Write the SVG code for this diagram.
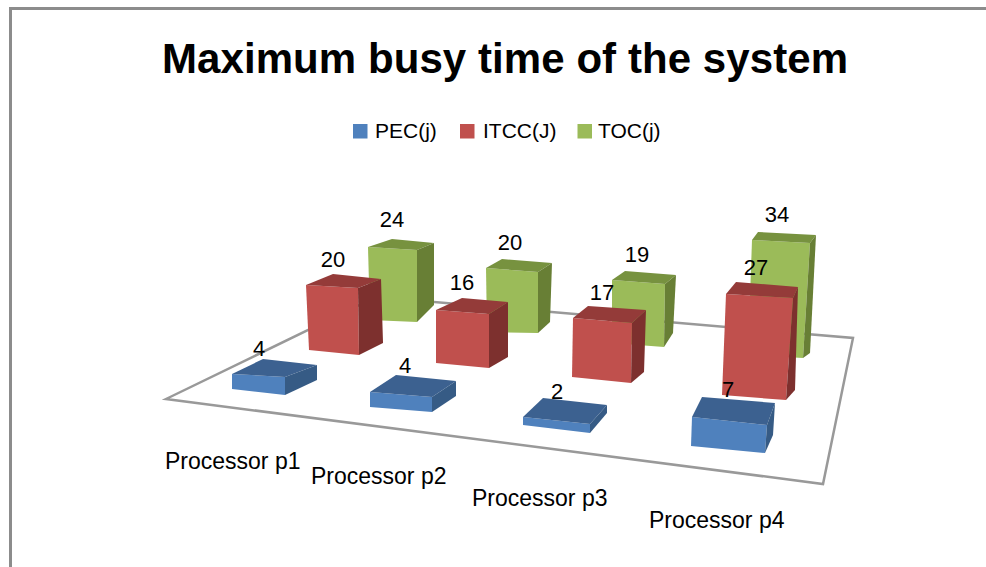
<svg xmlns="http://www.w3.org/2000/svg" width="986" height="567" viewBox="0 0 986 567">
<style>
text{font-family:"Liberation Sans",Arial,sans-serif;fill:#000}
.title{font-size:42px;font-weight:bold;text-anchor:middle}
.leg{font-size:21px}
.cat{font-size:23px}
.val{font-size:22px;text-anchor:middle}
.bf{fill:#4f81bd}.bt{fill:#3c6190}.bs{fill:#365b85}
.rf{fill:#c0504d}.rt{fill:#943b39}.rs{fill:#7d302e}
.gf{fill:#9bbb59}.gt{fill:#77923f}.gs{fill:#687f35}
.floor{fill:#fff;stroke:#999;stroke-width:2.5;stroke-linejoin:miter}
</style>
<rect x="0" y="0" width="986" height="567" fill="#fff"/>
<path d="M10.5 567 V8.5 H986" fill="none" stroke="#8c8c8c" stroke-width="3"/>
<text class="title" x="505" y="73" textLength="686">Maximum busy time of the system</text>
<g id="legend">
<rect class="bf" x="353" y="124" width="14.5" height="14.5"/>
<text class="leg" x="375" y="138">PEC(j)</text>
<rect class="rf" x="460" y="124" width="14.5" height="14.5"/>
<text class="leg" x="483" y="138">ITCC(J)</text>
<rect class="gf" x="577.5" y="124" width="14.5" height="14.5"/>
<text class="leg" x="598" y="138">TOC(j)</text>
</g>
<g id="floor">
<polygon class="floor" points="166,399 376,297 853,338 823,484"/>
</g>
<g id="toc-p1">
<polygon class="gf" points="368,247 417,250 417,322 370,320"/>
<polygon class="gt" points="368,247 392,239 434,243 417,250"/>
<polygon class="gs" points="417,250 434,243 434,305 417,322"/>
<text class="val" x="392" y="227">24</text>
</g>
<g id="toc-p2">
<polygon class="gf" points="486,268 538,272 538,333 487,332"/>
<polygon class="gt" points="486,268 502,259 552,263 538,272"/>
<polygon class="gs" points="538,272 552,263 550,322 538,333"/>
<text class="val" x="510" y="250">20</text>
</g>
<g id="toc-p3">
<polygon class="gf" points="612,280 665,284 664,347 612,343"/>
<polygon class="gt" points="612,280 625,271 676,275 665,284"/>
<polygon class="gs" points="665,284 676,275 673,333 664,347"/>
<text class="val" x="637" y="262">19</text>
</g>
<g id="toc-p4">
<polygon class="gf" points="752,240 810,243 803,358 748,355"/>
<polygon class="gt" points="752,240 758,232 816,235 810,243"/>
<polygon class="gs" points="810,243 816,235 810,353 803,358"/>
<text class="val" x="777" y="222">34</text>
</g>
<g id="itcc-p1">
<polygon class="rf" points="306,285 358,288 359,355 309,350"/>
<polygon class="rt" points="306,285 333,274 381,279 358,288"/>
<polygon class="rs" points="358,288 381,279 383,343 359,355"/>
<text class="val" x="333" y="267">20</text>
</g>
<g id="itcc-p2">
<polygon class="rf" points="436,310 489,314 489,368 436,363"/>
<polygon class="rt" points="436,310 462,298 508,302 489,314"/>
<polygon class="rs" points="489,314 508,302 508,357 489,368"/>
<text class="val" x="462" y="290">16</text>
</g>
<g id="itcc-p3">
<polygon class="rf" points="573,318 632,323 631,383 572,377"/>
<polygon class="rt" points="573,318 588,306 646,310 632,323"/>
<polygon class="rs" points="632,323 646,310 644,372 631,383"/>
<text class="val" x="602" y="300">17</text>
</g>
<g id="itcc-p4">
<polygon class="rf" points="726,294 793,298 786,400 722,395"/>
<polygon class="rt" points="726,294 736,282 798,287 793,298"/>
<polygon class="rs" points="793,298 798,287 795,390 786,400"/>
<text class="val" x="756" y="275">27</text>
</g>
<g id="pec-p1">
<polygon class="bf" points="232,374 285,377 285,395 232,389"/>
<polygon class="bt" points="232,374 263,359 317,365 285,377"/>
<polygon class="bs" points="285,377 317,365 317,380 285,395"/>
<text class="val" x="259" y="356">4</text>
</g>
<g id="pec-p2">
<polygon class="bf" points="370,392 432,397 432,412 370,407"/>
<polygon class="bt" points="370,392 396,375 456,381 432,397"/>
<polygon class="bs" points="432,397 456,381 456,396 432,412"/>
<text class="val" x="405" y="373">4</text>
</g>
<g id="pec-p3">
<polygon class="bf" points="523,417 590,424 590,433 523,425"/>
<polygon class="bt" points="523,417 543,398 607,405 590,424"/>
<polygon class="bs" points="590,424 607,405 607,413 590,433"/>
<text class="val" x="557" y="399">2</text>
</g>
<g id="pec-p4">
<polygon class="bf" points="692,417 767,425 765,453 691,446"/>
<polygon class="bt" points="692,417 702,397 775,403 767,425"/>
<polygon class="bs" points="767,425 775,403 773,435 765,453"/>
<text class="val" x="728" y="397">7</text>
</g>
<g id="categories">
<text class="cat" x="165" y="469">Processor p1</text>
<text class="cat" x="311" y="484">Processor p2</text>
<text class="cat" x="472" y="506">Processor p3</text>
<text class="cat" x="649" y="528">Processor p4</text>
</g>
</svg>
